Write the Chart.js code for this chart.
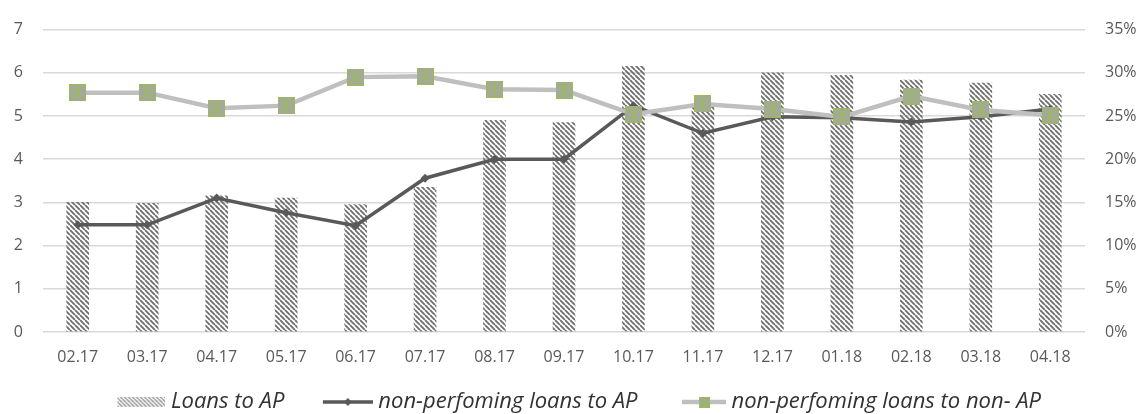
<!DOCTYPE html>
<html>
<head>
<meta charset="utf-8">
<script src="https://cdn.jsdelivr.net/npm/chart.js@4.4.0/dist/chart.umd.min.js"></script>
<style>
  html, body { margin: 0; padding: 0; background: #fff; }
  #wrap { width: 1141px; height: 414px; }
</style>
</head>
<body>
<div id="wrap"><canvas id="loans-chart"></canvas></div>
<script>
// data
const months = ['02.17','03.17','04.17','05.17','06.17','07.17','08.17','09.17','10.17','11.17','12.17','01.18','02.18','03.18','04.18'];
const loansToAP = [3.0, 2.98, 3.15, 3.1, 2.95, 3.35, 4.9, 4.85, 6.15, 5.2, 6.0, 5.94, 5.83, 5.76, 5.5];
const nplToAP = [12.4, 12.4, 15.5, 13.8, 12.3, 17.8, 20.0, 20.0, 26.2, 23.0, 24.9, 24.8, 24.3, 24.9, 25.8];
const nplToNonAP = [27.7, 27.7, 25.9, 26.2, 29.5, 29.6, 28.1, 28.0, 25.2, 26.4, 25.8, 24.9, 27.3, 25.7, 25.1];
const legendNames = ['Loans to AP', 'non-perfoming loans to AP', 'non-perfoming loans to non- AP'];
const leftTicks = { min: 0, max: 7, step: 1 };
const rightTicks = { min: 0, max: 35, step: 5 };

const darkGrey = '#595959';
const lightGrey = '#bfbfbf';
const green = '#9bbb59';

function hatchPattern(color, size, lw) {
  const c = document.createElement('canvas');
  c.width = size; c.height = size;
  const g = c.getContext('2d');
  g.strokeStyle = color;
  g.lineWidth = lw;
  g.beginPath();
  for (let o = -size; o <= size; o += size) {
    g.moveTo(o, 0);
    g.lineTo(o + size, size);
  }
  g.stroke();
  return g.createPattern(c, 'repeat');
}

function starMarker(size) {
  const c = document.createElement('canvas');
  c.width = size; c.height = size;
  const g = c.getContext('2d');
  g.fillStyle = '#a6a6a6';
  g.fillRect(0, 0, size, size);
  g.strokeStyle = green;
  g.lineWidth = 1.2;
  g.strokeRect(0.6, 0.6, size - 1.2, size - 1.2);
  const m = Math.round(size * 0.2);
  g.lineWidth = 1.5;
  g.beginPath();
  g.moveTo(m, m); g.lineTo(size - m, size - m);
  g.moveTo(size - m, m); g.lineTo(m, size - m);
  g.moveTo(size / 2, 2); g.lineTo(size / 2, size - 2);
  g.stroke();
  return c;
}

// legend samples: drawn at the right end of a wider transparent picture
const boxW = 60;
const picW = boxW + 11;
function legendPic(kind) {
  const c = document.createElement('canvas');
  c.width = picW; c.height = 14;
  const g = c.getContext('2d');
  if (kind === 'hatch') {
    g.fillStyle = hatchPattern('#8c8c8c', 4, 1.3);
    g.fillRect(picW - 48, 2, 48, 10);
  } else if (kind === 'dark') {
    g.strokeStyle = darkGrey;
    g.lineWidth = 3.5;
    g.beginPath(); g.moveTo(picW - 50, 7); g.lineTo(picW, 7); g.stroke();
    const cx = picW - 25;
    g.fillStyle = darkGrey;
    g.beginPath();
    g.moveTo(cx, 3); g.lineTo(cx + 4, 7); g.lineTo(cx, 11); g.lineTo(cx - 4, 7);
    g.closePath(); g.fill();
  } else {
    g.strokeStyle = lightGrey;
    g.lineWidth = 4.5;
    g.beginPath(); g.moveTo(picW - 44, 7); g.lineTo(picW, 7); g.stroke();
    g.drawImage(starMarker(11), picW - 22 - 5.5, 1.5);
  }
  return c;
}
const legendPics = [legendPic('hatch'), legendPic('dark'), legendPic('light')];

const ctx = document.getElementById('loans-chart');

new Chart(ctx, {
  data: {
    labels: months,
    datasets: [
      {
        type: 'line',
        label: legendNames[2],
        data: nplToNonAP,
        yAxisID: 'y1',
        borderColor: lightGrey,
        borderWidth: 4.5,
        tension: 0,
        pointStyle: starMarker(17),
        pointRadius: 8,
        order: 1
      },
      {
        type: 'line',
        label: legendNames[1],
        data: nplToAP,
        yAxisID: 'y1',
        borderColor: darkGrey,
        borderWidth: 3.5,
        tension: 0,
        pointStyle: 'rectRot',
        pointRadius: 4.5,
        pointBackgroundColor: darkGrey,
        pointBorderWidth: 0,
        order: 2
      },
      {
        type: 'bar',
        label: legendNames[0],
        data: loansToAP,
        yAxisID: 'y',
        backgroundColor: hatchPattern('#6e6e6e', 5, 1.8),
        barThickness: 22,
        order: 3
      }
    ]
  },
  options: {
    responsive: true,
    maintainAspectRatio: false,
    animation: false,
    layout: { padding: { top: 27, bottom: -9, left: 0, right: 0 } },
    plugins: {
      tooltip: { enabled: false },
      legend: {
        position: 'bottom',
        labels: {
          usePointStyle: true,
          pointStyleWidth: boxW,
          padding: 23,
          color: '#333333',
          font: { family: 'Open Sans', size: 22, style: 'italic' },
          generateLabels: function () {
            return legendNames.map(function (name, i) {
              return {
                text: name,
                pointStyle: legendPics[i],
                fillStyle: 'transparent',
                strokeStyle: 'transparent',
                lineWidth: 0,
                hidden: false,
                fontColor: '#333333'
              };
            });
          }
        }
      }
    },
    scales: {
      x: {
        grid: { display: false, drawTicks: false },
        border: { display: false },
        ticks: { color: darkGrey, padding: 16, font: { family: 'Open Sans', size: 16 } },
        afterFit: function (axis) { axis.height = 36; }
      },
      y: {
        position: 'left',
        min: leftTicks.min,
        max: leftTicks.max,
        ticks: { stepSize: leftTicks.step, color: darkGrey, padding: 20, font: { family: 'Open Sans', size: 16 } },
        grid: { color: '#d9d9d9', lineWidth: 1.5, drawTicks: false },
        border: { display: false },
        afterFit: function (axis) { axis.width = 43; }
      },
      y1: {
        position: 'right',
        min: rightTicks.min,
        max: rightTicks.max,
        ticks: {
          stepSize: rightTicks.step,
          color: darkGrey,
          padding: 20,
          font: { family: 'Open Sans', size: 16 },
          callback: function (v) { return v + '%'; }
        },
        grid: { display: false, drawTicks: false },
        border: { display: false },
        afterFit: function (axis) { axis.width = 56; }
      }
    }
  }
});
</script>
</body>
</html>
